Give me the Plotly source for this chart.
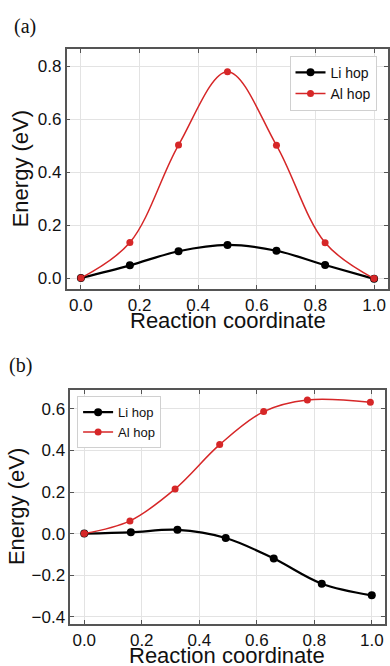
import plotly.graph_objects as go

# ---- data ----
a_x = [0.0, 0.167, 0.333, 0.5, 0.667, 0.833, 1.0]
a_li = [0.0, 0.048, 0.101, 0.125, 0.103, 0.049, -0.003]
a_al = [0.0, 0.134, 0.502, 0.779, 0.501, 0.133, -0.002]

b_li_x = [0.0, 0.162, 0.324, 0.492, 0.659, 0.826, 1.0]
b_li = [0.0, 0.006, 0.018, -0.021, -0.120, -0.241, -0.297]
b_al_x = [0.0, 0.159, 0.316, 0.471, 0.624, 0.776, 0.995]
b_al = [0.0, 0.061, 0.215, 0.428, 0.587, 0.643, 0.632]

x_ticks = [0.0, 0.2, 0.4, 0.6, 0.8, 1.0]
a_y_ticks = [0.0, 0.2, 0.4, 0.6, 0.8]
b_y_ticks = [-0.4, -0.2, 0.0, 0.2, 0.4, 0.6]

W, H = 390, 666
BLACK = "#000000"
RED = "#d62728"
FRAME = "#555555"
GRID = "#e3e3e3"
FONT = "Liberation Sans, Arial, sans-serif"

fig = go.Figure()

def add(x, y, name, color, lw, ms, xa, ya, legend, show):
    fig.add_trace(go.Scatter(
        x=x, y=y, name=name, mode="lines+markers",
        line=dict(color=color, width=lw, shape="spline", smoothing=1.0),
        marker=dict(color=color, size=ms),
        xaxis=xa, yaxis=ya, legend=legend, showlegend=show))

add(a_x, a_li, "Li hop", BLACK, 2.2, 8, "x", "y", "legend", True)
add(a_x, a_al, "Al hop", RED, 1.5, 7, "x", "y", "legend", True)
add(b_li_x, b_li, "Li hop", BLACK, 2.2, 8, "x2", "y2", "legend2", True)
add(b_al_x, b_al, "Al hop", RED, 1.5, 7, "x2", "y2", "legend2", True)

def px_x(p):
    return p / W

def px_y(p):
    return 1 - p / H

axis_common = dict(
    showline=True, linecolor=FRAME, linewidth=1.5, mirror="allticks",
    ticks="inside", ticklen=4, tickwidth=1, tickcolor=FRAME,
    showgrid=True, gridcolor=GRID, gridwidth=1, zeroline=False,
    tickfont=dict(family=FONT, size=17, color="#111111"),
)

fig.update_layout(
    width=W, height=H,
    margin=dict(l=0, r=0, t=0, b=0),
    paper_bgcolor="white", plot_bgcolor="white",
    font=dict(family=FONT),
    xaxis=dict(domain=[px_x(67), 1.0], range=[-0.0486, 1.0475], anchor="y",
               tickvals=x_ticks, ticktext=[f"{v:.1f}" for v in x_ticks], **axis_common),
    yaxis=dict(domain=[px_y(290), px_y(49)], range=[-0.0402, 0.8653], anchor="x",
               tickvals=a_y_ticks, ticktext=[f"{v:.1f}" for v in a_y_ticks], **axis_common),
    xaxis2=dict(domain=[px_x(70.7), px_x(386.5)], range=[-0.0484, 1.0443], anchor="y2",
                tickvals=x_ticks, ticktext=[f"{v:.1f}" for v in x_ticks], **axis_common),
    yaxis2=dict(domain=[px_y(626.7), px_y(392)], range=[-0.4344, 0.6897], anchor="x2",
                tickvals=b_y_ticks,
                ticktext=[f"{v:.1f}".replace("-", "\u2212") for v in b_y_ticks], **axis_common),
    legend=dict(x=px_x(291), y=px_y(56), xanchor="left", yanchor="top",
                bgcolor="white", bordercolor="#d0d0d0", borderwidth=1,
                font=dict(family=FONT, size=14, color="#111111"),
                tracegroupgap=0, itemwidth=30),
    legend2=dict(x=px_x(77.5), y=px_y(398), xanchor="left", yanchor="top",
                 bgcolor="white", bordercolor="#d0d0d0", borderwidth=1,
                 font=dict(family=FONT, size=13, color="#111111"),
                 tracegroupgap=0, itemwidth=30),
    showlegend=True,
)

ann = []
serif = dict(family="Liberation Serif, Times New Roman, serif", size=20, color="#111111")
ann.append(dict(text="(a)", x=px_x(12), y=px_y(27), xref="paper", yref="paper",
                xanchor="left", yanchor="middle", showarrow=False, font=serif))
ann.append(dict(text="(b)", x=px_x(7), y=px_y(367), xref="paper", yref="paper",
                xanchor="left", yanchor="middle", showarrow=False, font=serif))
title_font = dict(family=FONT, size=22, color="#111111")
ann.append(dict(text="Energy (eV)", x=px_x(20.7), y=px_y(169.5), xref="paper", yref="paper",
                xanchor="center", yanchor="middle", textangle=-90, showarrow=False, font=title_font))
ann.append(dict(text="Energy (eV)", x=px_x(16.5), y=px_y(509), xref="paper", yref="paper",
                xanchor="center", yanchor="middle", textangle=-90, showarrow=False, font=title_font))
ann.append(dict(text="Reaction coordinate", x=px_x(229), y=px_y(321.5), xref="paper", yref="paper",
                xanchor="center", yanchor="middle", showarrow=False, font=title_font))
ann.append(dict(text="Reaction coordinate", x=px_x(228.5), y=px_y(658), xref="paper", yref="paper",
                xanchor="center", yanchor="middle", showarrow=False, font=title_font))
fig.update_layout(annotations=ann)

fig.write_html("out.html")
